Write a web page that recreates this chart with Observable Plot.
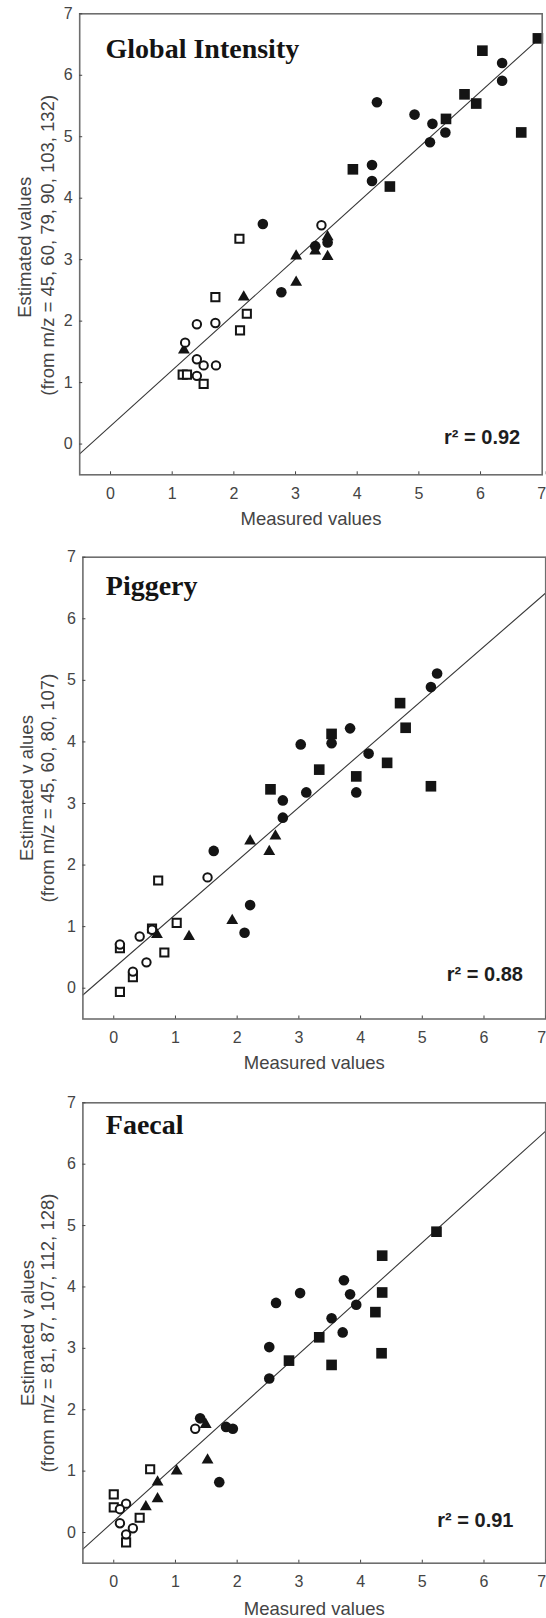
<!DOCTYPE html>
<html><head><meta charset="utf-8">
<script src="https://cdn.jsdelivr.net/npm/d3@7"></script>
<script src="https://cdn.jsdelivr.net/npm/@observablehq/plot@0.6"></script>
<style>
html,body{margin:0;padding:0;background:#fff;overflow:hidden;width:546px;height:1618px;}
#chart svg{display:block;overflow:visible;}
</style></head><body><div id="chart"></div>
<script>
// ---------- DATA ----------
const xTicks = [0, 1, 2, 3, 4, 5, 6, 7];
const yTicks = [0, 1, 2, 3, 4, 5, 6, 7];
const xAxisLabel = "Measured values";
const titles = ["Global Intensity", "Piggery", "Faecal"];
const yLabelLine1 = ["Estimated values", "Estimated v alues", "Estimated v alues"];
const yLabelLine2 = ["(from m/z = 45, 60, 79, 90, 103, 132)", "(from m/z = 45, 60, 80, 107)", "(from m/z = 81, 87, 107, 112, 128)"];
const r2Labels = ["r\u00b2 = 0.92", "r\u00b2 = 0.88", "r\u00b2 = 0.91"];

// Panel 1: Global Intensity
const globalFilledSquares = [[6.93,6.60],[6.03,6.40],[5.74,5.69],[5.93,5.54],[5.44,5.29],[6.66,5.07],[3.93,4.47],[4.53,4.19]];
const globalFilledCircles = [[6.35,6.20],[6.35,5.91],[4.93,5.36],[5.22,5.21],[5.43,5.07],[5.18,4.91],[4.32,5.56],[4.24,4.54],[4.24,4.28],[2.47,3.58],[3.32,3.22],[3.52,3.28],[2.77,2.47]];
const globalFilledTriangles = [[3.52,3.37],[3.01,3.06],[3.32,3.14],[3.52,3.05],[3.01,2.63],[2.16,2.39],[1.19,1.53]];
const globalOpenSquares = [[2.09,3.34],[1.70,2.39],[2.21,2.12],[2.10,1.85],[1.17,1.13],[1.24,1.13],[1.51,0.98]];
const globalOpenCircles = [[3.42,3.56],[1.40,1.95],[1.70,1.97],[1.21,1.65],[1.40,1.38],[1.51,1.28],[1.71,1.28],[1.40,1.11]];
const globalFitX = [-0.5, 7];
const globalFitY = [-0.16, 6.64];

// Panel 2: Piggery
const piggeryFilledSquares = [[4.64,4.63],[4.73,4.23],[3.53,4.13],[3.33,3.55],[3.93,3.44],[4.43,3.66],[5.14,3.28],[2.54,3.23]];
const piggeryFilledCircles = [[5.24,5.11],[5.14,4.89],[3.83,4.22],[3.03,3.96],[3.53,3.98],[4.13,3.81],[3.12,3.18],[3.93,3.18],[2.74,3.05],[2.74,2.77],[1.62,2.23],[2.21,1.35],[2.12,0.90]];
const piggeryFilledTriangles = [[2.21,2.39],[2.62,2.47],[2.52,2.22],[1.92,1.10],[1.22,0.84],[0.70,0.87]];
const piggeryOpenSquares = [[0.72,1.75],[1.02,1.06],[0.82,0.58],[0.62,0.97],[0.10,0.65],[0.31,0.18],[0.10,-0.06]];
const piggeryOpenCircles = [[1.52,1.80],[0.42,0.84],[0.62,0.95],[0.53,0.42],[0.31,0.27],[0.10,0.71]];
const piggeryFitX = [-0.5, 7];
const piggeryFitY = [-0.11, 6.42];

// Panel 3: Faecal
const faecalFilledSquares = [[5.23,4.90],[4.35,4.51],[4.35,3.91],[4.24,3.59],[3.33,3.18],[2.84,2.80],[3.53,2.73],[4.34,2.92]];
const faecalFilledCircles = [[3.73,4.11],[3.83,3.88],[3.02,3.90],[2.63,3.74],[3.93,3.71],[3.53,3.49],[3.71,3.26],[2.52,3.02],[2.52,2.51],[1.40,1.86],[1.82,1.72],[1.93,1.69],[1.71,0.82]];
const faecalFilledTriangles = [[1.49,1.76],[1.52,1.18],[1.02,1.00],[0.71,0.82],[0.71,0.55],[0.52,0.42]];
const faecalOpenSquares = [[0.59,1.03],[0.00,0.62],[0.00,0.41],[0.42,0.24],[0.20,-0.16]];
const faecalOpenCircles = [[1.32,1.69],[0.20,0.47],[0.10,0.38],[0.10,0.15],[0.31,0.07],[0.20,-0.03]];
const faecalFitX = [-0.5, 7];
const faecalFitY = [-0.27, 6.54];

// ---------- LAYOUT ----------
const layouts = [
  {height: 540, mt: 13.3, mb: 65.7, ml: 79.2, mr: 4.3, titleDx: 25.8, titleDy: 35, y1Dx: -55, y2Dx: -32, yDy: 3, y2Dy: 1, xlDy: 43.8, r2Dx: -22, r2Dy: -37, lastDx: 4},
  {height: 545, mt: 16.7, mb: 66.5, ml: 82.4, mr: 0.8, titleDx: 22.9, titleDy: 29.3, y1Dx: -55.4, y2Dx: -34.4, yDy: 0, y2Dy: 0, xlDy: 43.9, r2Dx: -22.7, r2Dy: -44, lastDx: 0.5},
  {height: 533, mt: 17.3, mb: 55.3, ml: 82.4, mr: 0.8, titleDx: 22.9, titleDy: 22.7, y1Dx: -55, y2Dx: -35, yDy: 0, y2Dy: 0, xlDy: 45.4, r2Dx: -32.2, r2Dy: -42.2, lastDx: 0.5}
];

const seriesSets = [
  {fs: globalFilledSquares, fc: globalFilledCircles, ft: globalFilledTriangles, os: globalOpenSquares, oc: globalOpenCircles, fx: globalFitX, fy: globalFitY},
  {fs: piggeryFilledSquares, fc: piggeryFilledCircles, ft: piggeryFilledTriangles, os: piggeryOpenSquares, oc: piggeryOpenCircles, fx: piggeryFitX, fy: piggeryFitY},
  {fs: faecalFilledSquares, fc: faecalFilledCircles, ft: faecalFilledTriangles, os: faecalOpenSquares, oc: faecalOpenCircles, fx: faecalFitX, fy: faecalFitY}
];

const SANS = "'Liberation Sans', Arial, sans-serif";
const SERIF = "'Liberation Serif', 'Times New Roman', serif";
const INK = "#141414";
const GREY = "#444";
const fmt = d => String(d);

const container = document.getElementById("chart");
seriesSets.forEach((s, i) => {
  const L = layouts[i];
  const fit = s.fx.map((x, k) => ({x, y: s.fy[k]}));
  const px = d => d[0], py = d => d[1];
  const chart = Plot.plot({
    width: 546,
    height: L.height,
    marginTop: L.mt, marginBottom: L.mb, marginLeft: L.ml, marginRight: L.mr,
    x: {domain: [-0.5, 7]},
    y: {domain: [-0.5, 7]},
    style: {fontFamily: SANS, fontSize: "16px", color: GREY, background: "#fff", overflow: "visible"},
    marks: [
      Plot.line(fit, {x: "x", y: "y", stroke: "#3a3a3a", strokeWidth: 1.1}),
      Plot.dot(s.fs, {x: px, y: py, symbol: "square", r: 6.0, fill: INK, stroke: "none"}),
      Plot.dot(s.fc, {x: px, y: py, symbol: "circle", r: 5.3, fill: INK, stroke: "none"}),
      Plot.dot(s.ft, {x: px, y: py, symbol: "triangle", r: 4.4, fill: INK, stroke: "none"}),
      Plot.dot(s.os, {x: px, y: py, symbol: "square", r: 4.6, fill: "#fff", stroke: INK, strokeWidth: 2}),
      Plot.dot(s.oc, {x: px, y: py, symbol: "circle", r: 4.2, fill: "#fff", stroke: INK, strokeWidth: 2}),
      Plot.frame({stroke: "#6e6e6e", strokeWidth: 1.6}),
      Plot.axisX(xTicks.slice(0, -1), {anchor: "bottom", tickSize: -3, tickPadding: 15.4, fontSize: 16, color: GREY, label: null, tickFormat: fmt}),
      Plot.axisX(xTicks.slice(-1), {anchor: "bottom", tickSize: -3, tickPadding: 15.4, fontSize: 16, color: GREY, label: null, tickFormat: fmt, textAnchor: "end", dx: L.lastDx}),
      Plot.axisY(yTicks, {anchor: "left", tickSize: -3, tickPadding: 10, fontSize: 16, color: GREY, label: null, tickFormat: fmt}),
      Plot.text([titles[i]], {text: d => d, frameAnchor: "top-left", textAnchor: "start", lineAnchor: "middle", dx: L.titleDx, dy: L.titleDy, fontSize: 28, fontWeight: "bold", fontFamily: SERIF, fill: INK}),
      Plot.text([r2Labels[i]], {text: d => d, frameAnchor: "bottom-right", textAnchor: "end", lineAnchor: "middle", dx: L.r2Dx, dy: L.r2Dy, fontSize: 20, fontWeight: "bold", fontFamily: SANS, fill: "#1e1e1e"}),
      Plot.text([xAxisLabel], {text: d => d, frameAnchor: "bottom", textAnchor: "middle", lineAnchor: "middle", dy: L.xlDy, fontSize: 18.5, fontFamily: SANS, fill: GREY}),
      Plot.text([yLabelLine1[i]], {text: d => d, frameAnchor: "left", textAnchor: "middle", lineAnchor: "middle", rotate: -90, dx: L.y1Dx, dy: L.yDy, fontSize: 18.5, fontFamily: SANS, fill: GREY}),
      Plot.text([yLabelLine2[i]], {text: d => d, frameAnchor: "left", textAnchor: "middle", lineAnchor: "middle", rotate: -90, dx: L.y2Dx, dy: L.y2Dy, fontSize: 18.5, fontFamily: SANS, fill: GREY})
    ]
  });
  container.appendChild(chart);
});
</script></body></html>
